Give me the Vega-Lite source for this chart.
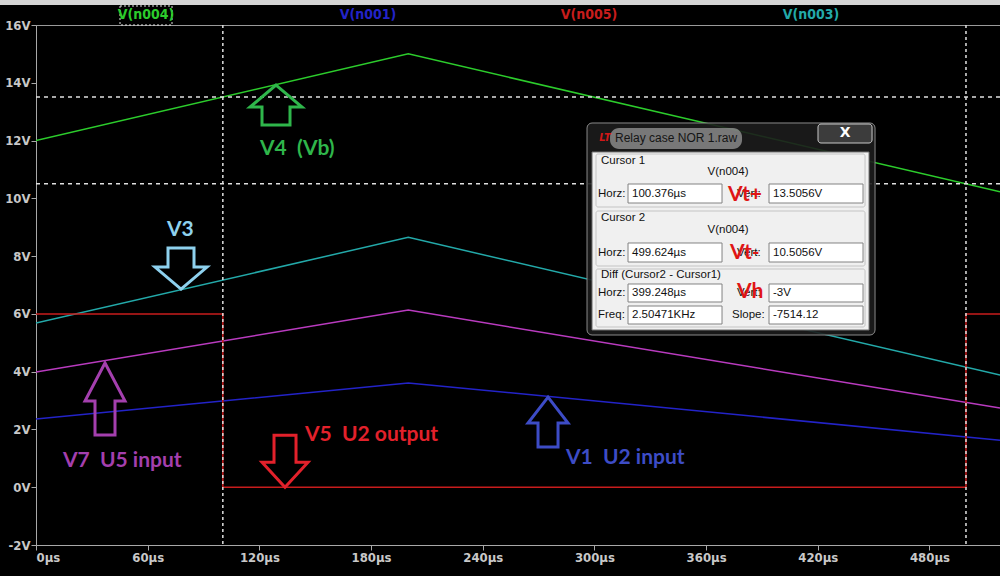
{
  "$schema": "https://vega.github.io/schema/vega-lite/v6.json",
  "width": 964,
  "height": 520,
  "autosize": {"type": "none"},
  "padding": {"left": 36, "top": 25, "right": 0, "bottom": 31},
  "background": "#000000",
  "config": {
    "view": {"stroke": "#9a9a9a", "strokeWidth": 1},
    "axis": {
      "domainColor": "#a8a8a8",
      "tickColor": "#a8a8a8",
      "labelColor": "#c8c8c8",
      "labelFont": "DejaVu Sans Condensed, Liberation Sans Narrow, Liberation Sans, sans-serif",
      "labelFontSize": 13,
      "labelFontWeight": "bold",
      "tickSize": 5,
      "grid": false,
      "labelPadding": 1
    }
  },
  "datasets": {
    "traces": [
      {"series": "V(n004)", "i": 0, "t": 0, "v": 12},
      {"series": "V(n004)", "i": 1, "t": 200, "v": 15},
      {"series": "V(n004)", "i": 2, "t": 517.9, "v": 10.23},
      {"series": "V(n003)", "i": 0, "t": 0, "v": 5.68},
      {"series": "V(n003)", "i": 1, "t": 200, "v": 8.65},
      {"series": "V(n003)", "i": 2, "t": 517.9, "v": 3.88},
      {"series": "V(n002)", "i": 0, "t": 0, "v": 3.99},
      {"series": "V(n002)", "i": 1, "t": 200, "v": 6.13},
      {"series": "V(n002)", "i": 2, "t": 517.9, "v": 2.74},
      {"series": "V(n001)", "i": 0, "t": 0, "v": 2.36},
      {"series": "V(n001)", "i": 1, "t": 200, "v": 3.61},
      {"series": "V(n001)", "i": 2, "t": 517.9, "v": 1.63},
      {"series": "V(n005)", "i": 0, "t": 0, "v": 6},
      {"series": "V(n005)", "i": 1, "t": 100.376, "v": 6},
      {"series": "V(n005)", "i": 2, "t": 100.376, "v": 0},
      {"series": "V(n005)", "i": 3, "t": 499.624, "v": 0},
      {"series": "V(n005)", "i": 4, "t": 499.624, "v": 6},
      {"series": "V(n005)", "i": 5, "t": 517.9, "v": 6}
    ],
    "legendItems": [
      {"series": "V(n004)", "t": 59.1, "v": 16.346},
      {"series": "V(n001)", "t": 178.37, "v": 16.346},
      {"series": "V(n005)", "t": 297.1, "v": 16.346},
      {"series": "V(n003)", "t": 416.37, "v": 16.346}
    ],
    "arrows": [
      {"id": "V4", "t": 128.94, "v": 13.92},
      {"id": "V3", "t": 77.9, "v": 6.86},
      {"id": "V7", "t": 37.07, "v": 4.3},
      {"id": "V5", "t": 133.78, "v": 0.0},
      {"id": "V1", "t": 275.08, "v": 3.12}
    ],
    "notes": [
      {"id": "V4", "text": "V4\u00a0 (Vb)", "t": 120.35, "v": 11.71},
      {"id": "V3", "text": "V3", "t": 70.38, "v": 8.9},
      {"id": "V7", "text": "V7\u00a0 U5 input", "t": 14.51, "v": 0.91},
      {"id": "V5", "text": "V5\u00a0 U2 output", "t": 144.52, "v": 1.81},
      {"id": "V1", "text": "V1\u00a0 U2 input", "t": 284.75, "v": 1.01}
    ],
    "boxes": [
      {"part": "strip", "x1": -19.4, "x2": 518, "y1": 16.692, "y2": 16.9},
      {"part": "legendbox", "x1": 45.13, "x2": 73.07, "y1": 16.0, "y2": 16.658},
      {"part": "window", "x1": 296.03, "x2": 450.76, "y1": 12.608, "y2": 5.269},
      {"part": "glow", "x1": 308.39, "x2": 379.31, "y1": 12.435, "y2": 11.708},
      {"part": "button", "x1": 420.13, "x2": 449.15, "y1": 12.573, "y2": 11.915},
      {"part": "body", "x1": 298.72, "x2": 447.54, "y1": 11.604, "y2": 5.442},
      {"part": "group", "x1": 300.86, "x2": 445.39, "y1": 11.535, "y2": 9.7},
      {"part": "group", "x1": 300.86, "x2": 445.39, "y1": 9.561, "y2": 7.658},
      {"part": "group", "x1": 300.86, "x2": 445.39, "y1": 7.554, "y2": 5.546},
      {"part": "field", "x1": 318.06, "x2": 368.56, "y1": 10.496, "y2": 9.838},
      {"part": "field", "x1": 393.81, "x2": 444.31, "y1": 10.496, "y2": 9.838},
      {"part": "field", "x1": 318.06, "x2": 368.56, "y1": 8.454, "y2": 7.796},
      {"part": "field", "x1": 393.81, "x2": 444.31, "y1": 8.454, "y2": 7.796},
      {"part": "field", "x1": 318.06, "x2": 368.56, "y1": 7.035, "y2": 6.412},
      {"part": "field", "x1": 393.81, "x2": 444.31, "y1": 7.035, "y2": 6.412},
      {"part": "field", "x1": 318.06, "x2": 368.56, "y1": 6.273, "y2": 5.65},
      {"part": "field", "x1": 393.81, "x2": 444.31, "y1": 6.273, "y2": 5.65}
    ],
    "dlgText": [
      {"kind": "title", "text": "Relay case NOR 1.raw", "t": 311.07, "v": 12.088},
      {"kind": "close", "text": "X", "t": 434.65, "v": 12.262},
      {"kind": "icon", "text": "LT", "t": 305.7, "v": 12.088},
      {"kind": "label", "text": "Cursor 1", "t": 303.55, "v": 11.292},
      {"kind": "center", "text": "V(n004)", "t": 371.78, "v": 10.912},
      {"kind": "label", "text": "Horz:", "t": 301.94, "v": 10.15},
      {"kind": "label", "text": "Vert:", "t": 376.62, "v": 10.15},
      {"kind": "label", "text": "100.376µs", "t": 320.21, "v": 10.15},
      {"kind": "label", "text": "13.5056V", "t": 395.96, "v": 10.15},
      {"kind": "label", "text": "Cursor 2", "t": 303.55, "v": 9.319},
      {"kind": "center", "text": "V(n004)", "t": 371.78, "v": 8.904},
      {"kind": "label", "text": "Horz:", "t": 301.94, "v": 8.108},
      {"kind": "label", "text": "Vert:", "t": 376.62, "v": 8.108},
      {"kind": "label", "text": "499.624µs", "t": 320.21, "v": 8.108},
      {"kind": "label", "text": "10.5056V", "t": 395.96, "v": 8.108},
      {"kind": "label", "text": "Diff (Cursor2 - Cursor1)", "t": 303.55, "v": 7.346},
      {"kind": "label", "text": "Horz:", "t": 301.94, "v": 6.723},
      {"kind": "label", "text": "Vert:", "t": 376.62, "v": 6.723},
      {"kind": "label", "text": "399.248µs", "t": 320.21, "v": 6.723},
      {"kind": "label", "text": "-3V", "t": 395.96, "v": 6.723},
      {"kind": "label", "text": "Freq:", "t": 301.94, "v": 5.962},
      {"kind": "label", "text": "2.50471KHz", "t": 320.21, "v": 5.962},
      {"kind": "label", "text": "Slope:", "t": 373.93, "v": 5.962},
      {"kind": "label", "text": "-7514.12", "t": 395.96, "v": 5.962},
      {"kind": "red", "text": "Vt+", "t": 371.78, "v": 10.115},
      {"kind": "red", "text": "Vt-", "t": 372.86, "v": 8.108},
      {"kind": "red", "text": "Vh", "t": 376.62, "v": 6.758}
    ]
  },
  "layer": [
    {
      "data": {"name": "traces"},
      "mark": {"type": "line", "strokeWidth": 1.5, "clip": true},
      "encoding": {
        "x": {
          "field": "t", "type": "quantitative", "title": null,
          "scale": {"domain": [0, 517.9], "nice": false, "zero": false},
          "axis": {"values": [0, 60, 120, 180, 240, 300, 360, 420, 480], "labelExpr": "datum.value + 'µs'", "title": null}
        },
        "y": {
          "field": "v", "type": "quantitative", "title": null,
          "scale": {"domain": [-2, 16], "nice": false, "zero": false},
          "axis": {"values": [-2, 0, 2, 4, 6, 8, 10, 12, 14, 16], "labelExpr": "datum.value + 'V'", "title": null}
        },
        "color": {
          "field": "series", "type": "nominal",
          "scale": {"domain": ["V(n004)", "V(n001)", "V(n005)", "V(n003)", "V(n002)"], "range": ["#2ccc2c", "#2323c8", "#c81c1c", "#23a9a9", "#b93bbf"]},
          "legend": null
        },
        "order": {"field": "i", "type": "quantitative"}
      }
    },
    {
      "data": {"values": [{"t": 100.376}, {"t": 499.624}]},
      "mark": {"type": "rule", "color": "#e0e0e0", "strokeDash": [3, 3], "strokeWidth": 1.5},
      "encoding": {"x": {"field": "t", "type": "quantitative", "title": null}}
    },
    {
      "data": {"values": [{"v": 13.5056}, {"v": 10.5056}]},
      "mark": {"type": "rule", "color": "#e0e0e0", "strokeDash": [4, 4], "strokeWidth": 1.5},
      "encoding": {"y": {"field": "v", "type": "quantitative", "title": null}}
    },
    {
      "data": {"name": "boxes"},
      "transform": [{"filter": "datum.part == 'strip'"}],
      "mark": {"type": "rect", "fill": "#d4d4d4"},
      "encoding": {
        "x": {"field": "x1", "type": "quantitative", "title": null}, "x2": {"field": "x2"},
        "y": {"field": "y1", "type": "quantitative", "title": null}, "y2": {"field": "y2"}
      }
    },
    {
      "data": {"name": "boxes"},
      "transform": [{"filter": "datum.part == 'legendbox'"}],
      "mark": {"type": "rect", "fill": null, "fillOpacity": 0, "stroke": "#e0e0e0", "strokeDash": [2, 2], "strokeWidth": 1},
      "encoding": {
        "x": {"field": "x1", "type": "quantitative", "title": null}, "x2": {"field": "x2"},
        "y": {"field": "y1", "type": "quantitative", "title": null}, "y2": {"field": "y2"}
      }
    },
    {
      "data": {"name": "legendItems"},
      "mark": {"type": "text", "font": "DejaVu Sans Condensed, Liberation Sans Narrow, Liberation Sans, sans-serif", "fontSize": 14, "fontWeight": "bold", "align": "center", "baseline": "middle"},
      "encoding": {
        "x": {"field": "t", "type": "quantitative", "title": null},
        "y": {"field": "v", "type": "quantitative", "title": null},
        "text": {"field": "series"},
        "color": {"field": "series", "type": "nominal", "legend": null}
      }
    },
    {
      "data": {"name": "arrows"},
      "mark": {"type": "point", "filled": false, "size": 4, "strokeWidth": 3, "opacity": 1, "strokeJoin": "miter"},
      "encoding": {
        "x": {"field": "t", "type": "quantitative", "title": null},
        "y": {"field": "v", "type": "quantitative", "title": null},
        "shape": {
          "field": "id", "type": "nominal", "legend": null,
          "scale": {
            "domain": ["V4", "V3", "V7", "V5", "V1"],
            "range": [
              "M0,0L26,22L14,22L14,40L-14,40L-14,22L-26,22Z",
              "M0,0L26,-22L13,-22L13,-41L-13,-41L-13,-22L-26,-22Z",
              "M0,0L20,38L10,38L10,72L-10,72L-10,38L-20,38Z",
              "M0,0L23,-25L11,-25L11,-52L-11,-52L-11,-25L-23,-25Z",
              "M0,0L20,26L10,26L10,50L-10,50L-10,26L-20,26Z"
            ]
          }
        },
        "stroke": {
          "field": "id", "type": "nominal", "legend": null,
          "scale": {"domain": ["V4", "V3", "V7", "V5", "V1"], "range": ["#2fb64b", "#8ed1ee", "#a43fae", "#e3212b", "#3d4cc6"]}
        }
      }
    },
    {
      "data": {"name": "notes"},
      "mark": {"type": "text", "font": "Lato, Open Sans, sans-serif", "fontSize": 21, "fontWeight": "bold", "align": "left", "baseline": "middle"},
      "encoding": {
        "x": {"field": "t", "type": "quantitative", "title": null},
        "y": {"field": "v", "type": "quantitative", "title": null},
        "text": {"field": "text"},
        "fill": {
          "field": "id", "type": "nominal", "legend": null,
          "scale": {"domain": ["V4", "V3", "V7", "V5", "V1"], "range": ["#2fb64b", "#8ed1ee", "#a43fae", "#e3212b", "#3d4cc6"]}
        }
      }
    },
    {
      "data": {"name": "boxes"},
      "transform": [{"filter": "datum.part == 'window'"}],
      "mark": {"type": "rect", "fill": "#1c1c1c", "fillOpacity": 0.9, "stroke": "#8a8a8a", "strokeWidth": 1, "cornerRadius": 5},
      "encoding": {
        "x": {"field": "x1", "type": "quantitative", "title": null}, "x2": {"field": "x2"},
        "y": {"field": "y1", "type": "quantitative", "title": null}, "y2": {"field": "y2"}
      }
    },
    {
      "data": {"name": "boxes"},
      "transform": [{"filter": "datum.part == 'glow'"}],
      "mark": {"type": "rect", "fill": "#b8b8b8", "fillOpacity": 0.6, "cornerRadius": 9},
      "encoding": {
        "x": {"field": "x1", "type": "quantitative", "title": null}, "x2": {"field": "x2"},
        "y": {"field": "y1", "type": "quantitative", "title": null}, "y2": {"field": "y2"}
      }
    },
    {
      "data": {"name": "boxes"},
      "transform": [{"filter": "datum.part == 'button'"}],
      "mark": {"type": "rect", "fill": "#3c3c3c", "stroke": "#c8c8c8", "strokeWidth": 1, "cornerRadius": 3},
      "encoding": {
        "x": {"field": "x1", "type": "quantitative", "title": null}, "x2": {"field": "x2"},
        "y": {"field": "y1", "type": "quantitative", "title": null}, "y2": {"field": "y2"}
      }
    },
    {
      "data": {"name": "boxes"},
      "transform": [{"filter": "datum.part == 'body'"}],
      "mark": {"type": "rect", "fill": "#f0f0f0", "stroke": "#707070", "strokeWidth": 1},
      "encoding": {
        "x": {"field": "x1", "type": "quantitative", "title": null}, "x2": {"field": "x2"},
        "y": {"field": "y1", "type": "quantitative", "title": null}, "y2": {"field": "y2"}
      }
    },
    {
      "data": {"name": "boxes"},
      "transform": [{"filter": "datum.part == 'group'"}],
      "mark": {"type": "rect", "fill": null, "fillOpacity": 0, "stroke": "#c4c4c4", "strokeWidth": 1, "cornerRadius": 2},
      "encoding": {
        "x": {"field": "x1", "type": "quantitative", "title": null}, "x2": {"field": "x2"},
        "y": {"field": "y1", "type": "quantitative", "title": null}, "y2": {"field": "y2"}
      }
    },
    {
      "data": {"name": "boxes"},
      "transform": [{"filter": "datum.part == 'field'"}],
      "mark": {"type": "rect", "fill": "#ffffff", "stroke": "#828282", "strokeWidth": 1},
      "encoding": {
        "x": {"field": "x1", "type": "quantitative", "title": null}, "x2": {"field": "x2"},
        "y": {"field": "y1", "type": "quantitative", "title": null}, "y2": {"field": "y2"}
      }
    },
    {
      "data": {"name": "dlgText"},
      "transform": [{"filter": "datum.kind == 'label'"}],
      "mark": {"type": "text", "font": "Liberation Sans, Arial, sans-serif", "fontSize": 11.5, "color": "#111111", "align": "left", "baseline": "middle"},
      "encoding": {
        "x": {"field": "t", "type": "quantitative", "title": null},
        "y": {"field": "v", "type": "quantitative", "title": null},
        "text": {"field": "text"}
      }
    },
    {
      "data": {"name": "dlgText"},
      "transform": [{"filter": "datum.kind == 'center'"}],
      "mark": {"type": "text", "font": "Liberation Sans, Arial, sans-serif", "fontSize": 11.5, "color": "#111111", "align": "center", "baseline": "middle"},
      "encoding": {
        "x": {"field": "t", "type": "quantitative", "title": null},
        "y": {"field": "v", "type": "quantitative", "title": null},
        "text": {"field": "text"}
      }
    },
    {
      "data": {"name": "dlgText"},
      "transform": [{"filter": "datum.kind == 'title'"}],
      "mark": {"type": "text", "font": "Liberation Sans, Arial, sans-serif", "fontSize": 12, "color": "#151515", "align": "left", "baseline": "middle"},
      "encoding": {
        "x": {"field": "t", "type": "quantitative", "title": null},
        "y": {"field": "v", "type": "quantitative", "title": null},
        "text": {"field": "text"}
      }
    },
    {
      "data": {"name": "dlgText"},
      "transform": [{"filter": "datum.kind == 'close'"}],
      "mark": {"type": "text", "font": "DejaVu Sans, sans-serif", "fontSize": 14, "fontWeight": "bold", "color": "#ffffff", "align": "center", "baseline": "middle"},
      "encoding": {
        "x": {"field": "t", "type": "quantitative", "title": null},
        "y": {"field": "v", "type": "quantitative", "title": null},
        "text": {"field": "text"}
      }
    },
    {
      "data": {"name": "dlgText"},
      "transform": [{"filter": "datum.kind == 'icon'"}],
      "mark": {"type": "text", "font": "DejaVu Sans, sans-serif", "fontSize": 10, "fontWeight": "bold", "fontStyle": "italic", "color": "#d01818", "align": "center", "baseline": "middle"},
      "encoding": {
        "x": {"field": "t", "type": "quantitative", "title": null},
        "y": {"field": "v", "type": "quantitative", "title": null},
        "text": {"field": "text"}
      }
    },
    {
      "data": {"name": "dlgText"},
      "transform": [{"filter": "datum.kind == 'red'"}],
      "mark": {"type": "text", "font": "Lato, Open Sans, sans-serif", "fontSize": 21, "fontWeight": "bold", "color": "#e01515", "align": "left", "baseline": "middle"},
      "encoding": {
        "x": {"field": "t", "type": "quantitative", "title": null},
        "y": {"field": "v", "type": "quantitative", "title": null},
        "text": {"field": "text"}
      }
    }
  ]
}
